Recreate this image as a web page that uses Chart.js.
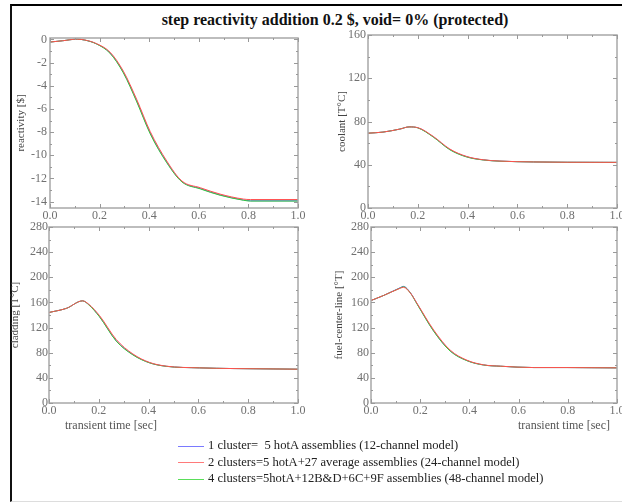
<!DOCTYPE html>
<html>
<head>
<meta charset="utf-8">
<script src="https://cdn.jsdelivr.net/npm/chart.js@4.4.0/dist/chart.umd.min.js"></script>
<style>
body { margin: 0; background: #fff; }
#wrap { position: relative; width: 622px; height: 502px; overflow: hidden; font-family: "Liberation Serif", "Times New Roman", serif; }
#wrap canvas { position: absolute; left: 0; top: 0; }
.frame { position: absolute; left: 10px; top: 4px; width: 640px; height: 495px; border-top: 2px solid #000; border-left: 2px solid #111; border-bottom: 1px solid #ddd; }
#title { position: absolute; left: 0; top: 11px; width: 670px; text-align: center; font-weight: bold; font-size: 16px; color: #111; }
.xt { position: absolute; top: 418px; font-size: 12px; color: #555; white-space: nowrap; }
#legend { position: absolute; left: 178px; top: 437px; font-size: 12.6px; color: #222; }
#legend div { height: 16.5px; line-height: 16px; white-space: nowrap; }
#legend span.ln { display: inline-block; width: 26px; height: 1px; vertical-align: middle; margin-right: 4px; }
</style>
</head>
<body>
<div id="wrap">
  <div class="frame"></div>
  <div id="title">step reactivity addition 0.2 $, void= 0% (protected)</div>
  <canvas id="cReact" width="622" height="502"></canvas>
  <canvas id="cCool" width="622" height="502"></canvas>
  <canvas id="cClad" width="622" height="502"></canvas>
  <canvas id="cFuel" width="622" height="502"></canvas>
  <div class="xt" style="left:65px">transient time [sec]</div>
  <div class="xt" style="left:518px">transient time [sec]</div>
  <div id="legend">
    <div><span class="ln" style="background:#7a7aff"></span>1 cluster=&nbsp; 5 hotA assemblies (12-channel model)</div>
    <div><span class="ln" style="background:#ff7a7a"></span>2 clusters=5 hotA+27 average assemblies (24-channel model)</div>
    <div><span class="ln" style="background:#5ade5a"></span>4 clusters=5hotA+12B&amp;D+6C+9F assemblies (48-channel model)</div>
  </div>
</div>
<script>
// tick labels
var xTicks = [0, 0.2, 0.4, 0.6, 0.8, 1.0];
var reactTicks = [-14, -12, -10, -8, -6, -4, -2, 0];
var coolTicks = [0, 40, 80, 120, 160];
var tempTicks = [0, 40, 80, 120, 160, 200, 240, 280];

// reactivity [$]
var tReact = [0, 0.05, 0.11, 0.14, 0.188, 0.242, 0.296, 0.35, 0.404, 0.471, 0.532, 0.606, 0.686, 0.78, 0.808, 1.0];
var react1 = [-0.23, -0.12, 0.02, -0.06, -0.39, -1.17, -2.85, -5.33, -8.08, -10.6, -12.27, -12.87, -13.42, -13.86, -13.93, -13.93];
var react2 = [-0.23, -0.12, 0.02, -0.05, -0.37, -1.1, -2.75, -5.2, -7.95, -10.5, -12.22, -12.8, -13.35, -13.78, -13.82, -13.82];
var react4 = [-0.23, -0.12, 0.02, -0.06, -0.4, -1.2, -2.9, -5.4, -8.15, -10.65, -12.3, -12.9, -13.45, -13.88, -13.95, -13.95];

// coolant [T°C]
var tCool = [0, 0.06, 0.128, 0.165, 0.2, 0.262, 0.329, 0.396, 0.463, 0.53, 0.664, 0.8, 1.0];
var cool1 = [69.2, 70.2, 73.0, 75.0, 74.2, 65.9, 54.1, 47.4, 44.5, 43.35, 42.6, 42.3, 42.2];
var cool2 = [69.2, 70.2, 73.0, 75.0, 74.3, 66.2, 54.5, 47.7, 44.6, 43.4, 42.6, 42.3, 42.2];
var cool4 = [69.2, 70.2, 73.0, 75.0, 74.1, 65.6, 53.8, 47.2, 44.4, 43.3, 42.6, 42.3, 42.2];

// cladding [T°C]
var tClad = [0, 0.07, 0.135, 0.16, 0.203, 0.27, 0.337, 0.404, 0.471, 0.605, 0.739, 1.0];
var clad1 = [144, 150.6, 162.5, 156.5, 137.5, 99, 77, 64, 58.4, 55.9, 54.8, 53.8];
var clad2 = [144, 150.6, 162.5, 157, 139, 101, 78, 64.5, 58.6, 55.9, 54.8, 53.8];
var clad4 = [144, 150.6, 162.5, 156, 137, 98.5, 76.5, 63.8, 58.3, 55.9, 54.8, 53.8];

// fuel-center-line [°T]
var tFuel = [0, 0.051, 0.119, 0.132, 0.16, 0.187, 0.255, 0.322, 0.39, 0.458, 0.526, 0.661, 0.797, 1.0];
var fuel1 = [163, 171, 183.5, 185.5, 175.5, 158, 114.5, 83, 67.5, 60.5, 58.5, 56.4, 56.4, 55.9];
var fuel2 = [163, 171, 182.6, 184, 175, 158.6, 116, 84.1, 68.1, 60.7, 58.6, 56.4, 56.4, 55.9];
var fuel4 = [163, 171, 183, 185, 175, 157.5, 114, 82.5, 67.3, 60.4, 58.5, 56.4, 56.4, 55.9];

var serif = '"Liberation Serif", "Times New Roman", serif';

// grey box with inward major/minor ticks on all four sides
var frameTicks = {
    id: 'frameTicks',
    afterDatasetsDraw: function (chart) {
        var ctx = chart.ctx, a = chart.chartArea;
        var x = chart.scales.x, y = chart.scales.y;
        ctx.save();
        ctx.strokeStyle = '#a8a8a8';
        ctx.lineWidth = 1.5;
        ctx.strokeRect(a.left, a.top, a.right - a.left, a.bottom - a.top);
        ctx.lineWidth = 1;
        ctx.strokeStyle = '#999';
        function mids(v) {
            var m = [];
            for (var i = 0; i < v.length - 1; i++) m.push((v[i] + v[i + 1]) / 2);
            return m;
        }
        var xv = x.ticks.map(function (t) { return t.value; });
        var yv = y.ticks.map(function (t) { return t.value; });
        ctx.beginPath();
        [[xv, 4], [mids(xv), 2]].forEach(function (p) {
            p[0].forEach(function (v) {
                var px = Math.round(x.getPixelForValue(v)) + 0.5;
                ctx.moveTo(px, a.bottom); ctx.lineTo(px, a.bottom - p[1]);
                ctx.moveTo(px, a.top); ctx.lineTo(px, a.top + p[1]);
            });
        });
        [[yv, 4], [mids(yv), 2]].forEach(function (p) {
            p[0].forEach(function (v) {
                var py = Math.round(y.getPixelForValue(v)) + 0.5;
                ctx.moveTo(a.left, py); ctx.lineTo(a.left + p[1], py);
                ctx.moveTo(a.right, py); ctx.lineTo(a.right - p[1], py);
            });
        });
        ctx.stroke();
        ctx.restore();
    }
};

function painel(id, tempo, s1, s2, s4, yTitulo, yMin, yMax, yTicks, pad, yLarg, yPad) {
    var ctx = document.getElementById(id);
    function pts(s) {
        return s.map(function (v, i) { return { x: tempo[i], y: v }; });
    }
    var linha = { borderWidth: 1, pointRadius: 0, fill: false, cubicInterpolationMode: 'monotone' };
    return new Chart(ctx, {
        type: 'line',
        data: {
            datasets: [
                Object.assign({ label: '2 clusters', data: pts(s2), borderColor: '#ff4f4f' }, linha),
                Object.assign({ label: '4 clusters', data: pts(s4), borderColor: '#33cc33' }, linha),
                Object.assign({ label: '1 cluster', data: pts(s1), borderColor: '#5a5aff' }, linha)
            ]
        },
        options: {
            responsive: false,
            animation: false,
            devicePixelRatio: 1,
            layout: { padding: pad },
            plugins: { legend: { display: false }, tooltip: { enabled: false } },
            scales: {
                x: {
                    type: 'linear', min: 0, max: 1,
                    grid: { display: false, drawTicks: false },
                    border: { display: false },
                    afterBuildTicks: function (s) { s.ticks = xTicks.map(function (v) { return { value: v }; }); },
                    afterFit: function (s) { s.height = 16; s.paddingLeft = 0; s.paddingRight = 0; },
                    ticks: {
                        autoSkip: false, maxRotation: 0, padding: 1, color: '#707070',
                        font: { family: serif, size: 12 },
                        callback: function (v) { return v.toFixed(1); }
                    }
                },
                y: {
                    type: 'linear', min: yMin, max: yMax,
                    grid: { display: false, drawTicks: false },
                    border: { display: false },
                    afterBuildTicks: function (s) { s.ticks = yTicks.map(function (v) { return { value: v }; }); },
                    afterFit: function (s) { s.width = yLarg; s.paddingTop = 0; s.paddingBottom = 0; },
                    ticks: {
                        autoSkip: false, padding: yPad, color: '#707070',
                        font: { family: serif, size: 12 }
                    },
                    title: {
                        display: true, text: yTitulo, color: '#444',
                        font: { family: serif, size: 11 },
                        padding: { top: 0, bottom: 0 }
                    }
                }
            }
        },
        plugins: [frameTicks]
    });
}

painel('cReact', tReact, react1, react2, react4, 'reactivity [$]', -14.55, 0.12, reactTicks,
    { left: 15, right: 324, top: 38, bottom: 278 }, 35, 3);
painel('cCool', tCool, cool1, cool2, cool4, 'coolant [T°C]', 0, 160, coolTicks,
    { left: 336, right: 5, top: 35, bottom: 278 }, 32, 2);
painel('cClad', tClad, clad1, clad2, clad4, 'cladding [T°C]', 0, 280, tempTicks,
    { left: 9, right: 324, top: 227, bottom: 83 }, 40, 1);
painel('cFuel', tFuel, fuel1, fuel2, fuel4, 'fuel-center-line [°T]', 0, 280, tempTicks,
    { left: 333, right: 5, top: 227, bottom: 83 }, 38, 2);
</script>
</body>
</html>
